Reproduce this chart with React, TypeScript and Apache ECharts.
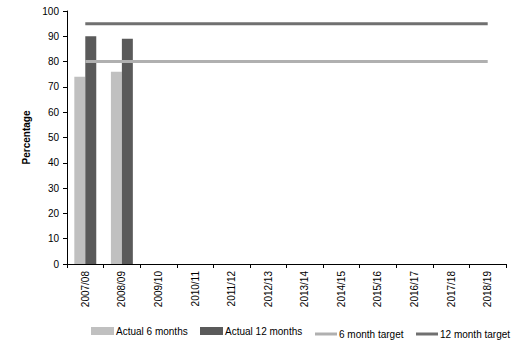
import React, { useEffect, useRef } from "react";
import * as echarts from "echarts";

const categories = ["2007/08", "2008/09", "2009/10", "2010/11", "2011/12", "2012/13", "2013/14", "2014/15", "2015/16", "2016/17", "2017/18", "2018/19"];
const actual6 = [74, 76, null, null, null, null, null, null, null, null, null, null];
const actual12 = [90, 89, null, null, null, null, null, null, null, null, null, null];
const target6 = [80, 80, 80, 80, 80, 80, 80, 80, 80, 80, 80, 80];
const target12 = [95, 95, 95, 95, 95, 95, 95, 95, 95, 95, 95, 95];

const FONT = "'Liberation Sans', Arial, sans-serif";

const legendText = { fontSize: 10, color: "#000", fontFamily: FONT, padding: [0, 0, 0, -3] };

export default function App() {
  const ref = useRef<HTMLDivElement>(null);
  useEffect(() => {
    if (!ref.current) return;
    const chart = echarts.init(ref.current, undefined, { renderer: "svg" });
    chart.setOption({
      animation: false,
      textStyle: { fontFamily: FONT },
      grid: { left: 67, right: 8, top: 11, bottom: 76 },
      legend: [
        { left: 91, top: 326, itemWidth: 23, itemHeight: 8, padding: 0, textStyle: legendText, data: [{ name: "Actual 6 months", icon: "rect" }] },
        { left: 200, top: 326, itemWidth: 23, itemHeight: 8, padding: 0, textStyle: legendText, data: [{ name: "Actual 12 months", icon: "rect" }] },
        { left: 315, top: 329, itemWidth: 22, itemHeight: 3, padding: 0, textStyle: legendText, data: [{ name: "6 month target", icon: "rect" }] },
        { left: 416, top: 329, itemWidth: 22, itemHeight: 3, padding: 0, textStyle: legendText, data: [{ name: "12 month target", icon: "rect" }] },
      ],
      xAxis: {
        type: "category",
        data: categories,
        boundaryGap: true,
        axisLine: { lineStyle: { color: "#000", width: 1 } },
        axisTick: { show: true, length: 4, lineStyle: { color: "#000" } },
        axisLabel: { rotate: 90, fontSize: 10, color: "#000", margin: 7, interval: 0, fontFamily: FONT },
      },
      yAxis: {
        type: "value",
        min: 0,
        max: 100,
        interval: 10,
        name: "Percentage",
        nameLocation: "middle",
        nameGap: 26,
        nameTextStyle: { fontSize: 10, fontWeight: "bold", color: "#000", fontFamily: FONT },
        axisLine: { show: true, lineStyle: { color: "#000", width: 1 } },
        axisTick: { show: true, length: 4, lineStyle: { color: "#000" } },
        axisLabel: { fontSize: 10, color: "#000", margin: 8, fontFamily: FONT },
        splitLine: { show: false },
      },
      series: [
        { name: "Actual 6 months", type: "bar", data: actual6, itemStyle: { color: "#c0c0c0" }, barGap: "0%", barCategoryGap: "40%" },
        { name: "Actual 12 months", type: "bar", data: actual12, itemStyle: { color: "#5a5a5a" } },
        { name: "6 month target", type: "line", data: target6, symbol: "none", showSymbol: false, lineStyle: { color: "#b0b0b0", width: 3 }, itemStyle: { color: "#b0b0b0" } },
        { name: "12 month target", type: "line", data: target12, symbol: "none", showSymbol: false, lineStyle: { color: "#707070", width: 3 }, itemStyle: { color: "#707070" } },
      ],
    });
    return () => chart.dispose();
  }, []);
  return <div ref={ref} style={{ width: 514, height: 340, position: "absolute", left: 0, top: 0 }} />;
}
